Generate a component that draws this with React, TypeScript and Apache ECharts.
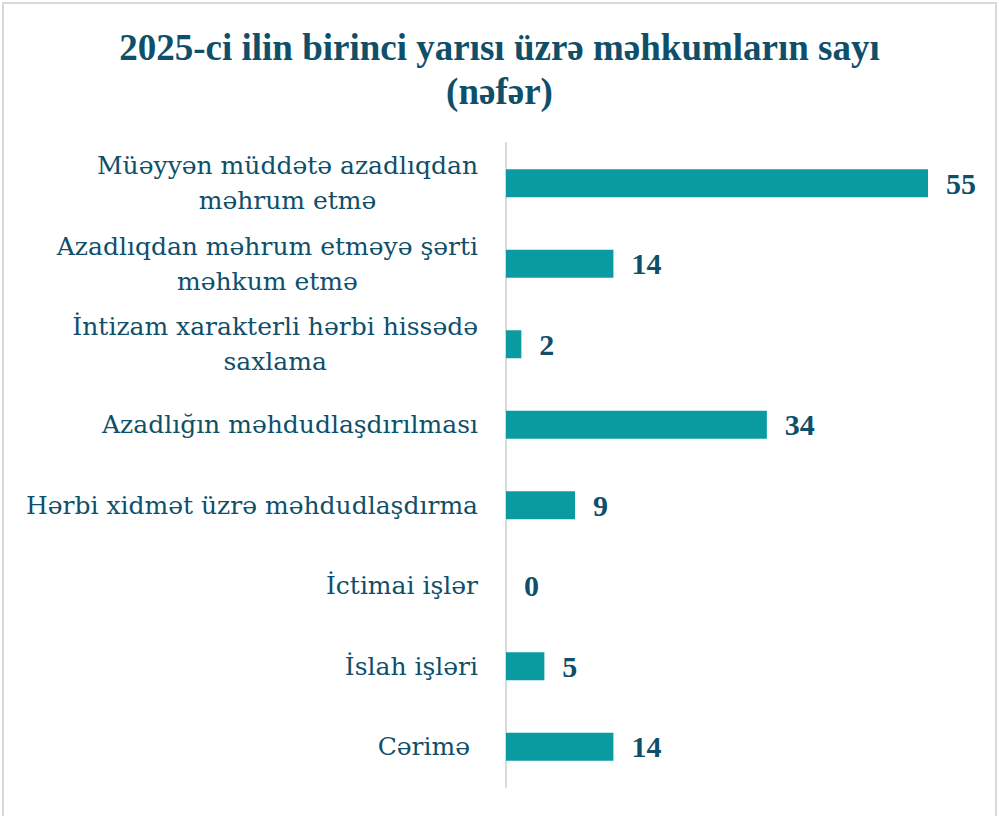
import React, { useEffect, useRef } from "react";
import * as echarts from "echarts";

const categories = [
  "Müəyyən müddətə azadlıqdan\nməhrum etmə",
  "Azadlıqdan məhrum etməyə şərti\nməhkum etmə",
  "İntizam xarakterli hərbi hissədə\nsaxlama",
  "Azadlığın məhdudlaşdırılması",
  "Hərbi xidmət üzrə məhdudlaşdırma",
  "İctimai işlər",
  "İslah işləri",
  "Cərimə ",
];
const values = [55, 14, 2, 34, 9, 0, 5, 14];
const titleText = "2025-ci ilin birinci yarısı üzrə məhkumların sayı\n(nəfər)";

const TEXT = "#0f4f6a";
const BAR = "#0a9ba1";
const SERIF = "'Liberation Serif', 'Times New Roman', serif";
const LABEL_FONT = "'DejaVu Serif', serif";

export default function App() {
  const ref = useRef<HTMLDivElement>(null);
  useEffect(() => {
    document.body.style.margin = "0";
    const chart = echarts.init(ref.current!, undefined, { renderer: "svg" });
    chart.setOption({
      animation: false,
      backgroundColor: "#ffffff",
      title: {
        text: titleText,
        left: "center",
        top: 20,
        textStyle: {
          fontFamily: SERIF,
          fontWeight: "bold",
          fontSize: 37,
          lineHeight: 44,
          color: TEXT,
        },
      },
      graphic: [
        {
          type: "rect",
          shape: { x: 3, y: 3, width: 993, height: 840 },
          style: { fill: "none", stroke: "#d9d9d9", lineWidth: 2 },
          silent: true,
        },
      ],
      grid: { left: 506, right: 71, top: 143, bottom: 29 },
      xAxis: {
        type: "value",
        min: 0,
        max: 55,
        show: false,
      },
      yAxis: {
        type: "category",
        inverse: true,
        data: categories,
        axisLine: { show: true, lineStyle: { color: "#d9d9d9", width: 2 } },
        axisTick: { show: false },
        axisLabel: {
          margin: 28,
          formatter: (v: string) => {
            const lines = v.split("\n");
            if (lines.length === 1) return "{a|" + lines[0] + "}";
            return "{a|" + lines[0] + "}\n{c|" + lines.slice(1).join("\n") + "}";
          },
          rich: {
            a: {
              fontFamily: LABEL_FONT,
              fontSize: 25,
              lineHeight: 35,
              color: TEXT,
            },
            c: {
              fontFamily: LABEL_FONT,
              fontSize: 25,
              lineHeight: 35,
              color: TEXT,
              align: "center",
            },
          },
        },
      },
      series: [
        {
          type: "bar",
          data: values,
          barWidth: 28,
          itemStyle: { color: BAR },
          label: {
            show: true,
            position: "right",
            distance: 18,
            fontFamily: SERIF,
            fontWeight: "bold",
            fontSize: 30,
            color: TEXT,
          },
        },
      ],
    });
    return () => chart.dispose();
  }, []);
  return (
    <div
      ref={ref}
      style={{ position: "fixed", left: 0, top: 0, width: 999, height: 816 }}
    />
  );
}
